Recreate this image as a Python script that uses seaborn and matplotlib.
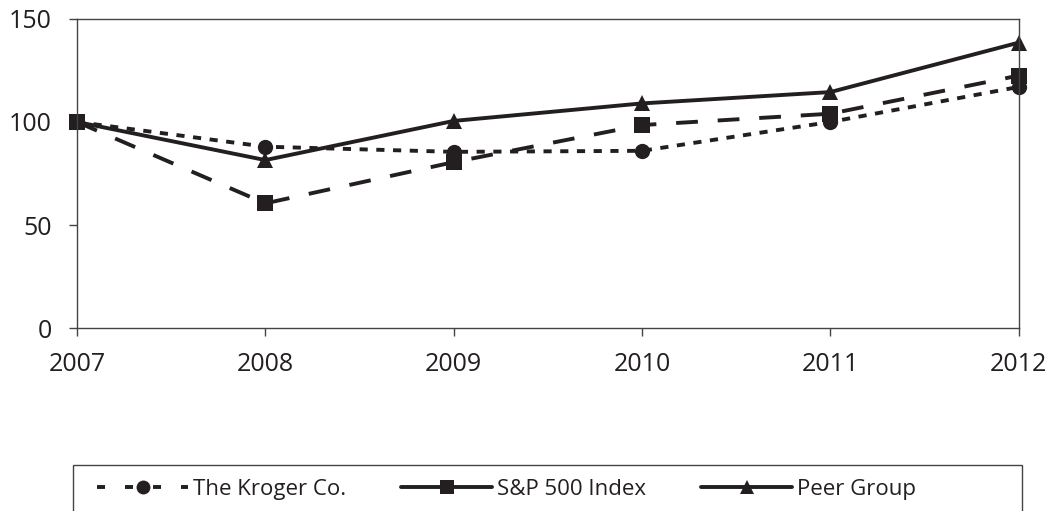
import matplotlib
matplotlib.use('Agg')
import matplotlib.pyplot as plt
from matplotlib.lines import Line2D
from matplotlib.patches import Rectangle
import seaborn as sns
import pandas as pd

# values
years = [2007, 2008, 2009, 2010, 2011, 2012]
kroger = [100, 88, 85.5, 86, 100, 117]
sp500 = [100, 60.5, 80.5, 98.5, 104, 122.5]
peer_group = [100, 81.5, 100.5, 109, 114.5, 138.5]
series_names = ['The Kroger Co.', 'S&P 500 Index', 'Peer Group']
y_ticks = [0, 50, 100, 150]

ink = '#231f20'
markers = {'The Kroger Co.': 'o', 'S&P 500 Index': 's', 'Peer Group': '^'}

df = pd.DataFrame({
    'year': years * 3,
    'value': kroger + sp500 + peer_group,
    'series': [n for n in series_names for _ in years],
})

sns.set_style('white')
plt.rcParams['font.family'] = ['Open Sans', 'DejaVu Sans']
plt.rcParams['text.color'] = ink

fig = plt.figure(figsize=(10.47, 5.11), dpi=100)
ax = fig.add_axes([0.0735, 0.358, 0.8995, 0.605])

sns.lineplot(
    data=df, x='year', y='value', hue='series', style='series',
    palette={n: ink for n in series_names},
    dashes={'The Kroger Co.': (2.1, 2.2), 'S&P 500 Index': (5.6, 5.1), 'Peer Group': ''},
    markers=markers, markersize=11, markeredgewidth=0, linewidth=2.8,
    clip_on=False, legend=False, ax=ax,
)

ax.set_xlim(2007, 2012)
ax.set_ylim(0, 150)
ax.set_xticks(years)
ax.set_yticks(y_ticks)
ax.set_xlabel('')
ax.set_ylabel('')
for s in ax.spines.values():
    s.set_color('#444444')
    s.set_linewidth(1.0)
ax.tick_params(axis='both', which='both', direction='out', length=6, width=1,
               color='#444444', labelsize=18, labelcolor=ink, left=True, bottom=True)
ax.tick_params(axis='x', pad=11)
ax.tick_params(axis='y', pad=12)

# legend: handles styled like the original key, frame drawn separately
legend_dashes = {'The Kroger Co.': (0, (2.06, 5.14)), 'S&P 500 Index': '-', 'Peer Group': '-'}
handles = [Line2D([], [], color=ink, linewidth=2.8, linestyle=legend_dashes[n],
                  marker=markers[n], markersize=10, markeredgewidth=0)
           for n in series_names]
fig.legend(handles, series_names, loc='center left', ncol=3,
           bbox_to_anchor=(97 / 1047, 1 - 489 / 511), frameon=False,
           fontsize=16, handlelength=4.1, handletextpad=0.2,
           borderpad=0, borderaxespad=0, columnspacing=2.5)
fig.patches.append(Rectangle((73 / 1047, -0.05), 949 / 1047, 0.05 + 1 - 465 / 511,
                             transform=fig.transFigure, fill=False,
                             edgecolor='#444444', linewidth=1.0))

fig.savefig('out.png', dpi=100)
